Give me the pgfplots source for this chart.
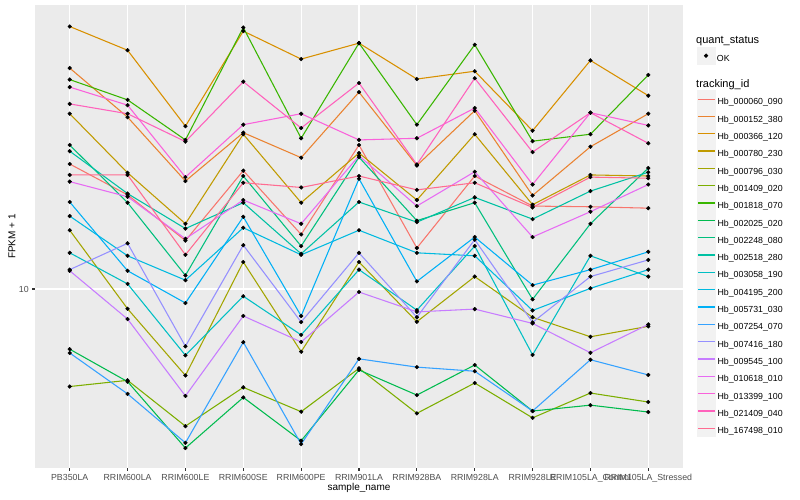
\documentclass[border=0pt]{standalone}
\usepackage{fontspec}
\setmainfont{Liberation Sans}
\usepackage{pgfplots}
\usepackage{pgfplotstable}
\pgfplotsset{compat=1.18}

% ggplot hue palette, 20 levels
\definecolor{c1}{HTML}{F8766D}
\definecolor{c2}{HTML}{EA8331}
\definecolor{c3}{HTML}{D89000}
\definecolor{c4}{HTML}{C09B00}
\definecolor{c5}{HTML}{A3A500}
\definecolor{c6}{HTML}{7CAE00}
\definecolor{c7}{HTML}{39B600}
\definecolor{c8}{HTML}{00BB4E}
\definecolor{c9}{HTML}{00BF7D}
\definecolor{c10}{HTML}{00C1A3}
\definecolor{c11}{HTML}{00BFC4}
\definecolor{c12}{HTML}{00BAE0}
\definecolor{c13}{HTML}{00B0F6}
\definecolor{c14}{HTML}{35A2FF}
\definecolor{c15}{HTML}{9590FF}
\definecolor{c16}{HTML}{C77CFF}
\definecolor{c17}{HTML}{E76BF3}
\definecolor{c18}{HTML}{FA62DB}
\definecolor{c19}{HTML}{FF62BC}
\definecolor{c20}{HTML}{FF6C91}
\definecolor{panel}{HTML}{EBEBEB}
\definecolor{keybg}{HTML}{F2F2F2}
\definecolor{grey30}{HTML}{4D4D4D}
\definecolor{grey20}{HTML}{333333}

% FPKM + 1, one column per tracking_id, one row per sample
\pgfplotstableread{
x s1 s2 s3 s4 s5 s6 s7 s8 s9 s10 s11 s12 s13 s14 s15 s16 s17 s18 s19 s20
0 26.1 54.5 75.0 38.4 15.7 4.73 49.9 6.30 30.2 28.8 13.2 17.5 19.5 6.12 11.6 11.5 22.8 47.1 41.4 24.0
1 20.6 37.4 62.5 24.4 8.59 4.96 42.7 4.91 19.4 20.8 10.4 12.9 11.5 4.47 14.2 7.94 20.3 41.0 38.4 24.0
2 14.5 22.9 34.9 16.5 5.15 3.49 31.4 2.95 11.1 15.9 6.01 10.7 8.98 3.07 6.44 4.40 14.7 23.6 31.0 13.0
3 24.8 33.2 72.4 32.8 12.3 4.70 74.4 4.35 23.8 19.4 9.46 16.0 17.4 6.65 14.0 8.13 19.8 35.3 49.1 22.6
4 15.2 27.4 58.4 19.4 6.18 3.90 31.8 3.12 13.9 13.1 7.03 13.0 8.13 3.04 7.76 6.66 16.5 38.4 34.4 21.8
5 30.2 45.3 66.0 28.4 12.3 5.44 66.0 5.37 27.5 19.5 11.6 15.7 23.3 5.85 13.2 9.77 27.8 31.4 48.6 23.8
6 13.7 25.8 50.1 19.8 7.78 3.85 35.3 4.43 16.9 16.7 8.50 13.2 10.6 5.49 8.05 8.39 18.9 31.8 26.0 21.4
7 23.8 39.3 53.2 32.8 11.0 4.86 65.2 5.58 19.4 20.2 13.9 12.9 14.9 5.32 14.6 8.57 24.6 40.1 50.4 22.6
8 18.9 20.5 33.7 19.1 8.05 3.72 31.1 3.92 9.24 17.1 6.03 8.48 10.3 3.92 7.74 7.68 14.9 22.3 28.6 18.7
9 18.8 29.8 57.8 24.0 6.93 4.50 32.8 4.10 16.5 21.2 12.9 10.05 11.6 5.81 11.0 6.13 18.1 38.7 38.7 23.6
10 18.6 38.4 44.1 23.8 7.51 4.20 51.7 3.89 25.3 24.5 11.0 11.6 13.3 5.17 12.5 7.62 22.3 35.1 30.6 23.4
}\fpkm

\begin{document}
\begin{tikzpicture}
\path[use as bounding box] (-35pt,-32pt) rectangle (765pt,468pt);
\begin{axis}[
    at={(0pt,0pt)}, anchor=south west,
    scale only axis, width=648pt, height=463pt,
    xmin=-0.6, xmax=10.6,
    ymode=log, ymin=2.531, ymax=88.45,
    xtick={0,...,10},
    xticklabels={PB350LA,RRIM600LA,RRIM600LE,RRIM600SE,RRIM600PE,RRIM901LA,RRIM928BA,RRIM928LA,RRIM928LE,RRIM105LA\_Control,RRIM105LA\_Stressed},
    ytick={10}, yticklabels={10},
    axis background/.style={fill=panel},
    axis line style={draw=none},
    grid=major, major grid style={white, line width=1.07pt},
    tick align=outside, tick pos=left, major tick length=2.75pt,
    tick style={grey20, line width=1.07pt},
    ticklabel style={font=\fontsize{8.8}{10}\selectfont, text=grey30},
    /pgf/number format/assume math mode=true,
    xlabel={sample\_name}, ylabel={FPKM + 1},
    label style={font=\fontsize{11}{13}\selectfont},
    every axis x label/.style={at={(axis description cs:0.5,-0.0432)}, anchor=center},
    every axis y label/.style={at={(axis description cs:-0.0355,0.5)}, anchor=center, rotate=90},
    legend entries={Hb\_000060\_090,Hb\_000152\_380,Hb\_000366\_120,Hb\_000780\_230,Hb\_000796\_030,Hb\_001409\_020,Hb\_001818\_070,Hb\_002025\_020,Hb\_002248\_080,Hb\_002518\_280,Hb\_003058\_190,Hb\_004195\_200,Hb\_005731\_030,Hb\_007254\_070,Hb\_007416\_180,Hb\_009545\_100,Hb\_010618\_010,Hb\_013399\_100,Hb\_021409\_040,Hb\_167498\_010},
    legend cell align=left,
    legend style={draw=none, fill=none, at={(1.0216,0.8159)}, anchor=north west,
        inner sep=0pt, row sep=-0.5pt, font=\fontsize{8.8}{10}\selectfont,
        /tikz/every even column/.append style={column sep=0pt}},
    legend image code/.code={
        \fill[keybg] (0pt,-4.95pt) rectangle (17.3pt,11.35pt);
        \draw[#1, line width=1.2pt] (0.5pt,3.2pt) -- (16.8pt,3.2pt);},
]
\pgfplotsinvokeforeach{1,...,20}{
    \addplot[color=c#1, line width=1.07pt, mark=none] table[x=x, y=s#1] {\fpkm};
}
\pgfplotsinvokeforeach{1,...,20}{
    \addplot[only marks, mark=*, mark size=1.9pt, black, forget plot] table[x=x, y=s#1] {\fpkm};
}
\end{axis}
\begin{axis}[
    at={(0pt,0pt)}, anchor=south west,
    scale only axis, width=648pt, height=463pt,
    hide axis, xmin=0, xmax=1, ymin=0, ymax=1,
    legend cell align=left,
    legend style={draw=none, fill=none, at={(1.0216,0.9090)}, anchor=north west,
        inner sep=0pt, font=\fontsize{8.8}{10}\selectfont},
    legend image code/.code={
        \fill[keybg] (0pt,-4.95pt) rectangle (17.3pt,11.35pt);
        \fill[black] (8.65pt,3.2pt) circle (1.9pt);},
]
\addlegendimage{black}
\addlegendentry{OK}
\end{axis}
\node[anchor=west, inner sep=0pt, font=\fontsize{11}{13}\selectfont] at (661pt,427.3pt) {quant\_status};
\node[anchor=west, inner sep=0pt, font=\fontsize{11}{13}\selectfont] at (661pt,383.7pt) {tracking\_id};
\end{tikzpicture}
\end{document}
